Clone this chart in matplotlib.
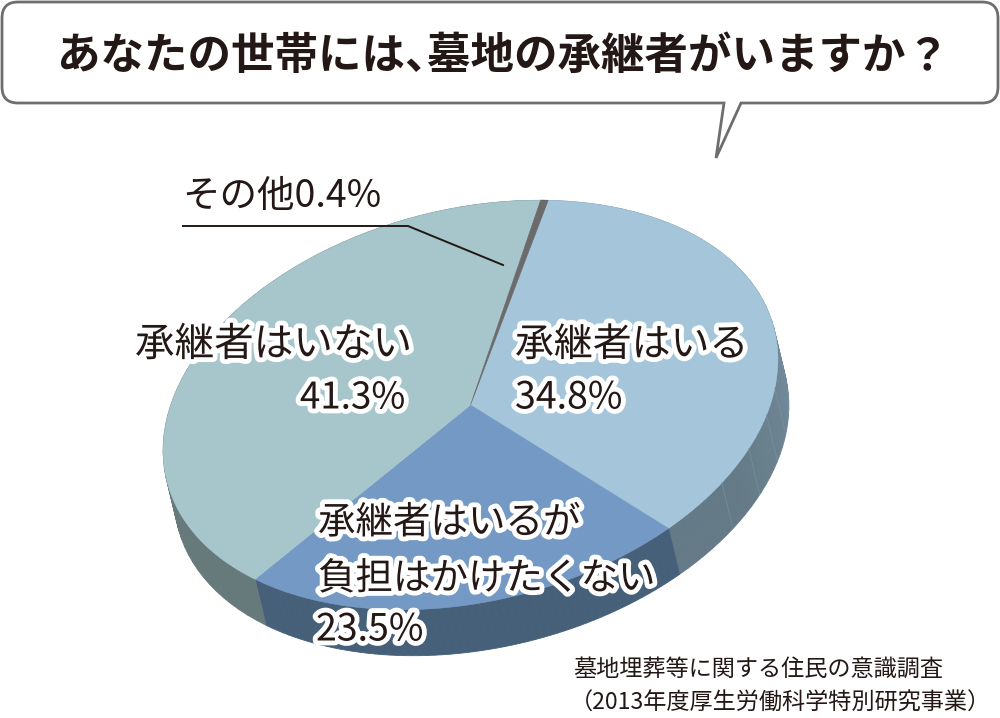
import numpy as np
import matplotlib
matplotlib.use('Agg')
import matplotlib.pyplot as plt
import matplotlib.patheffects as pe
from matplotlib.patches import PathPatch, Polygon
from matplotlib.path import Path

plt.rcParams['font.family'] = ['Noto Sans CJK JP', 'DejaVu Sans']

title_parts = ['あなたの世帯には、', '墓地の承継者がいますか', '？']
categories = ['承継者はいる', '承継者はいるが負担はかけたくない', '承継者はいない', 'その他']
shares = [34.8, 23.5, 41.3, 0.4]
share_labels = ['34.8%', '23.5%', '41.3%', '0.4%']
source_lines = ['墓地埋葬等に関する住民の意識調査', '（2013年度厚生労働科学特別研究事業）']

top_colors = ['#a5c6da', '#7399c4', '#a6c6cc', '#6b6b6b']
side_colors = ['#647a86', '#46607a', '#66797b', '#555555']
ink = '#231815'

# ellipse of the tilted pie, in pixels of the picture
cx, cy = 470.5, 405
rx, ry = 313, 196
tilt = np.radians(14)
depth = np.array([11, 46])
start = 66.5


def to_px(t):
    t = np.radians(t)
    x = rx * np.cos(t)
    y = ry * np.sin(t)
    return np.column_stack([cx + x * np.cos(tilt) - y * np.sin(tilt),
                            cy - x * np.sin(tilt) - y * np.cos(tilt)])


def blend(c1, c2, k):
    a = np.array(matplotlib.colors.to_rgb(c1))
    b = np.array(matplotlib.colors.to_rgb(c2))
    return a + (b - a) * k


fig = plt.figure(figsize=(10, 7.18), dpi=100)
ax = fig.add_axes([0, 0, 1, 1])
ax.set_xlim(0, 1000)
ax.set_ylim(718, 0)
ax.axis('off')

# speech bubble
l, t, r, b, q = 2, 2, 998, 103, 16
verts = [(l + q, t), (r - q, t), (r, t), (r, t + q), (r, b - q), (r, b), (r - q, b),
         (741, b), (716, 158), (724, b), (l + q, b), (l, b), (l, b - q), (l, t + q), (l, t), (l + q, t)]
codes = [Path.MOVETO, Path.LINETO, Path.CURVE3, Path.CURVE3, Path.LINETO, Path.CURVE3, Path.CURVE3,
         Path.LINETO, Path.LINETO, Path.LINETO, Path.LINETO, Path.CURVE3, Path.CURVE3, Path.LINETO,
         Path.CURVE3, Path.CURVE3]
ax.add_patch(PathPatch(Path(verts, codes), fc='white', ec='#6e6e6e', lw=2))
head = dict(fontsize=31.3, fontweight='bold', color=ink, va='center')
ax.text(57, 56, title_parts[0], ha='left', **head)
ax.text(427, 56, title_parts[1], ha='left', **head)
ax.text(905, 56, title_parts[2], ha='left', **head)

# slices, going clockwise from the top
edges = start - np.cumsum([0] + shares) * 3.6
for i in range(len(shares)):
    arc = np.linspace(edges[i], edges[i + 1], 60)
    pts = to_px(arc)
    low = pts + depth
    for j in range(len(arc) - 1):
        col = side_colors[i]
        if i == 0:
            # wall gets lighter towards the right side
            col = blend('#71899a', side_colors[i], min(1, max(0, (-arc[j] - 5) / 35)))
        ax.add_patch(Polygon([pts[j], pts[j + 1], low[j + 1], low[j]], fc=col, ec=col, lw=0.6))

# seams on the right wall
for s in [-44, -34, -24.5, -17]:
    p = to_px(np.array([s]))[0]
    ax.plot([p[0], p[0] + depth[0]], [p[1], p[1] + depth[1]], color='#7d919c', lw=0.7, alpha=0.7)

for i in range(len(shares)):
    arc = np.linspace(edges[i], edges[i + 1], 120)
    ax.add_patch(Polygon(np.vstack([[cx, cy], to_px(arc)]), fc=top_colors[i], ec=top_colors[i], lw=0.4))

# leader for その他
ax.plot([183, 408, 503], [226, 226, 265], color=ink, lw=1.4, solid_joinstyle='miter')
ax.text(182, 197, categories[3] + share_labels[3], fontsize=27, color=ink, ha='left', va='center')

halo = [pe.withStroke(linewidth=7, foreground='white')]
lab = dict(color=ink, va='center', path_effects=halo)
ax.text(515, 345, categories[0], ha='left', fontsize=28, **lab)
ax.text(515, 398, share_labels[0], ha='left', fontsize=27, **lab)
ax.text(135, 345, categories[2], ha='left', fontsize=28.5, **lab)
ax.text(405, 398, share_labels[2], ha='right', fontsize=26.5, **lab)
ax.text(318, 523, categories[1][:7], ha='left', fontsize=27, **lab)
ax.text(318, 579, categories[1][7:], ha='left', fontsize=27, **lab)
ax.text(316, 630, share_labels[1], ha='left', fontsize=27, **lab)

ax.text(573, 669, source_lines[0], fontsize=16.7, color=ink, ha='left', va='center')
ax.text(570, 703, source_lines[1], fontsize=16.7, color=ink, ha='left', va='center')

fig.savefig('out.png', dpi=100, facecolor='white')
